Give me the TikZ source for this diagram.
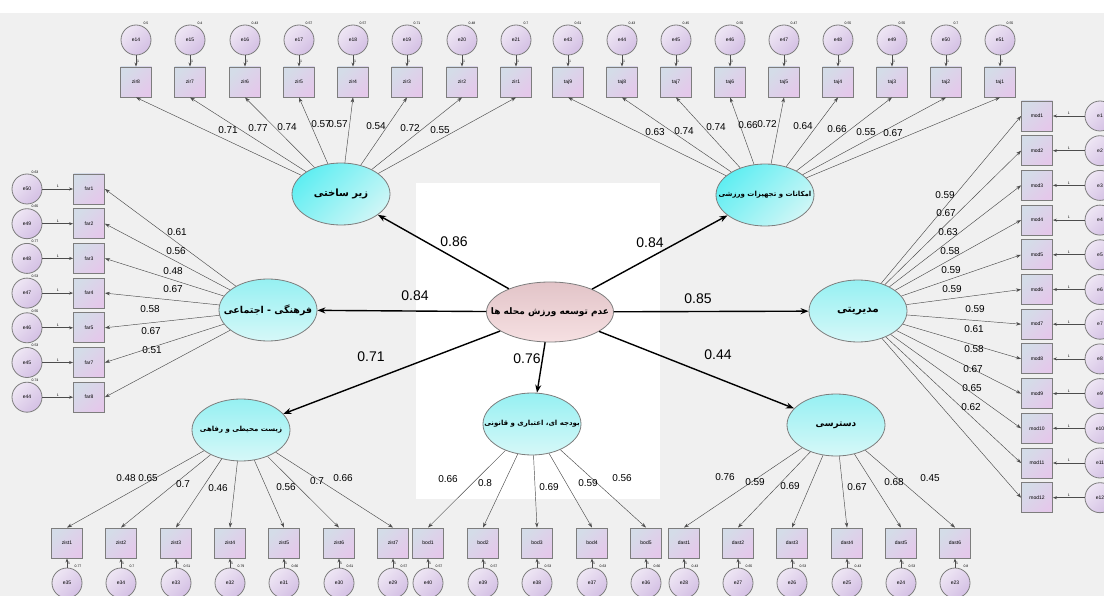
\documentclass[tikz,border=0pt]{standalone}
\usepackage{fontspec}
\setmainfont{Liberation Sans}
\newfontfamily\arabicfont[Script=Arabic]{DejaVu Sans}
\TeXXeTstate=1
\usetikzlibrary{arrows.meta,shapes.geometric}

\definecolor{bggray}{RGB}{240,240,240}
\definecolor{edgegray}{RGB}{125,125,125}
\definecolor{boxA}{RGB}{212,220,232}
\definecolor{boxB}{RGB}{228,200,234}
\definecolor{errA}{RGB}{238,230,244}
\definecolor{errB}{RGB}{212,192,228}
\definecolor{latA}{RGB}{96,238,242}
\definecolor{latB}{RGB}{206,246,246}
\definecolor{paleA}{RGB}{150,240,242}
\definecolor{paleB}{RGB}{214,248,248}
\definecolor{mainA}{RGB}{226,196,200}
\definecolor{mainB}{RGB}{246,224,226}

% fixed-size text inside the ellipses
\newcommand{\lattext}[2]{\makebox[0pt]{\fontsize{#1}{#1}\selectfont #2}}

\tikzset{
  obsbox/.style={rectangle, draw=edgegray, line width=0.9pt, minimum width=31pt, minimum height=30pt,
    inner sep=0pt, top color=boxA, bottom color=boxB, shading angle=45, font=\fontsize{5}{6}\selectfont},
  errcirc/.style={circle, draw=edgegray, line width=0.8pt, minimum size=30pt, inner sep=0pt,
    top color=errA, bottom color=errB, shading angle=45, font=\fontsize{5}{6}\selectfont},
  latent/.style={ellipse, draw=edgegray, line width=0.8pt, minimum width=98pt, minimum height=62pt,
    inner sep=0pt, top color=latA, bottom color=latB, shading angle=45, font=\arabicfont\bfseries},
  palelatent/.style={latent, top color=paleA, bottom color=paleB},
  mainlatent/.style={latent, minimum width=127pt, minimum height=60pt, top color=mainA, bottom color=mainB},
  loadarrow/.style={draw=black!70, line width=0.45pt, -{Stealth[length=5pt,width=3.5pt]}},
  fixarrow/.style={draw=black!70, line width=0.6pt, -{Stealth[length=4pt,width=3pt]}},
  structarrow/.style={draw=black, line width=1.4pt, -{Stealth[length=8pt,width=6pt]}},
  bigval/.style={font=\fontsize{14}{14}\selectfont, inner sep=0pt},
  loadval/.style={font=\fontsize{10}{10}\selectfont, inner sep=0pt},
  tinyval/.style={font=\fontsize{3.5}{4}\selectfont, inner sep=0pt},
  onelab/.style={font=\fontsize{3.5}{4}\selectfont, inner sep=0.8pt},
}

\begin{document}
\begin{tikzpicture}[x=1pt,y=-1pt]
  \useasboundingbox (0,0) rectangle (1104,596);
  % background
  \fill[bggray] (0,13) rectangle (1104,596);
  \fill[white] (416,183) rectangle (660,499);

  % latent variables
  \node[mainlatent] (main) at (550,312) {\lattext{9}{\beginR عدم توسعه ورزش محله ها\endR}};
  \node[latent] (zir) at (341,194) {\lattext{10}{\beginR زیر ساختی\endR}};
  \node[latent] (taj) at (765,195) {\lattext{7}{\beginR امکانات و تجهیزات ورزشی\endR}};
  \node[palelatent] (far) at (268,310) {\lattext{9.5}{\beginR فرهنگی - اجتماعی\endR}};
  \node[palelatent] (mod) at (858,311) {\lattext{10.5}{\beginR مدیریتی\endR}};
  \node[palelatent] (zist) at (241,430) {\lattext{7}{\beginR زیست محیطی و رفاهی\endR}};
  \node[palelatent] (bod) at (532,424) {\lattext{7}{\beginR بودجه ای، اعتباری و قانونی\endR}};
  \node[palelatent] (dast) at (836,425) {\lattext{9}{\beginR دسترسی\endR}};

  % structural paths
  \draw[structarrow] (main) -- (zir);
  \draw[structarrow] (main) -- (taj);
  \draw[structarrow] (main) -- (far);
  \draw[structarrow] (main) -- (mod);
  \draw[structarrow] (main) -- (zist);
  \draw[structarrow] (main) -- (bod);
  \draw[structarrow] (main) -- (dast);

  \node[bigval] at (454,242) {0.86};
  \node[bigval] at (650,243) {0.84};
  \node[bigval] at (415,296) {0.84};
  \node[bigval] at (698,299) {0.85};
  \node[bigval] at (371,357) {0.71};
  \node[bigval] at (527,359) {0.76};
  \node[bigval] at (718,355) {0.44};

  % zir indicators
  \foreach \n/\x/\e/\v in {8/136/14/0.5, 7/190/15/0.4, 6/245/16/0.43, 5/299/17/0.57,
                           4/353/18/0.57, 3/407/19/0.71, 2/462/20/0.48, 1/516/21/0.7} {
    \node[obsbox] (zir\n) at (\x,82) {zir\n};
    \node[errcirc] (ezir\n) at (\x,40) {e\e};
    \draw[fixarrow] (ezir\n) -- node[onelab, right] {1} (zir\n);
    \node[tinyval] at (\x+10,23) {\v};
    \draw[loadarrow] (zir) -- (zir\n.south);
  }
  \foreach \x/\y/\v in {228/130/0.71, 258/128/0.77, 287/127/0.74, 321/124/0.57,
                        338/124/0.57, 376/126/0.54, 410/128/0.72, 440/130/0.55}
    \node[loadval] at (\x,\y) {\v};

  % taj indicators
  \foreach \n/\x/\e/\v in {9/568/43/0.61, 8/622/44/0.43, 7/676/45/0.45, 6/730/46/0.55, 5/784/47/0.47,
                           4/838/48/0.55, 3/892/49/0.55, 2/946/50/0.7, 1/1000/51/0.55} {
    \node[obsbox] (taj\n) at (\x,82) {taj\n};
    \node[errcirc] (etaj\n) at (\x,40) {e\e};
    \draw[fixarrow] (etaj\n) -- node[onelab, right] {1} (taj\n);
    \node[tinyval] at (\x+10,23) {\v};
    \draw[loadarrow] (taj) -- (taj\n.south);
  }
  \foreach \x/\y/\v in {655/132/0.63, 684/131/0.74, 716/127/0.74, 748/125/0.66, 767/124/0.72,
                        803/126/0.64, 837/129/0.66, 866/132/0.55, 893/133/0.67}
    \node[loadval] at (\x,\y) {\v};

  % far indicators
  \foreach \k/\n/\e/\v in {0/1/50/0.63, 1/2/49/0.65, 2/3/48/0.77, 3/4/47/0.53,
                           4/5/46/0.55, 5/7/45/0.53, 6/8/44/0.74} {
    \pgfmathsetmacro{\y}{189+34.7*\k}
    \node[obsbox] (far\n) at (89,\y) {far\n};
    \node[errcirc] (efar\n) at (27,\y) {e\e};
    \draw[fixarrow] (efar\n) -- node[onelab, above] {1} (far\n);
    \node[tinyval] at (35,\y-17) {\v};
    \draw[loadarrow] (far) -- (far\n.east);
  }
  \foreach \x/\y/\v in {177/232/0.61, 176/251/0.56, 173/271/0.48, 173/289/0.67,
                        150/309/0.58, 151/331/0.67, 152/350/0.51}
    \node[loadval] at (\x,\y) {\v};

  % mod indicators
  \foreach \n in {1,...,12} {
    \pgfmathsetmacro{\y}{116+34.7*(\n-1)}
    \node[obsbox] (mod\n) at (1037,\y) {mod\n};
    \node[errcirc] (emod\n) at (1100,\y) {e\n};
    \draw[fixarrow] (emod\n) -- node[onelab, above] {1} (mod\n);
    \draw[loadarrow] (mod) -- (mod\n.west);
  }
  \foreach \x/\y/\v in {945/195/0.59, 946/213/0.67, 948/232/0.63, 950/251/0.58,
                        951/270/0.59, 952/289/0.59, 975/309/0.59, 974/329/0.61,
                        974/349/0.58, 973/369/0.67, 972/388/0.65, 971/407/0.62}
    \node[loadval] at (\x,\y) {\v};

  % zist indicators
  \foreach \n/\x/\e/\v in {1/67/35/0.77, 2/121/34/0.7, 3/176/33/0.51, 4/230/32/0.79,
                           5/284/31/0.66, 6/339/30/0.61, 7/393/29/0.57} {
    \node[obsbox] (zist\n) at (\x,543) {zist\n};
    \node[errcirc] (ezist\n) at (\x,583) {e\e};
    \draw[fixarrow] (ezist\n) -- node[onelab, right] {1} (zist\n);
    \node[tinyval] at (\x+11,566) {\v};
    \draw[loadarrow] (zist) -- (zist\n.north);
  }
  \foreach \x/\y/\v in {126/478/0.48, 148/478/0.65, 183/484/0.7, 218/488/0.46,
                        286/487/0.56, 317/481/0.7, 343/478/0.66}
    \node[loadval] at (\x,\y) {\v};

  % bod indicators
  \foreach \n/\x/\e/\v in {1/428/40/0.57, 2/483/39/0.57, 3/537/38/0.53, 4/592/37/0.63, 5/646/36/0.66} {
    \node[obsbox] (bod\n) at (\x,543) {bod\n};
    \node[errcirc] (ebod\n) at (\x,583) {e\e};
    \draw[fixarrow] (ebod\n) -- node[onelab, right] {1} (bod\n);
    \node[tinyval] at (\x+11,566) {\v};
    \draw[loadarrow] (bod) -- (bod\n.north);
  }
  \foreach \x/\y/\v in {448/479/0.66, 485/483/0.8, 549/487/0.69, 588/483/0.59, 622/478/0.56}
    \node[loadval] at (\x,\y) {\v};

  % dast indicators
  \foreach \n/\x/\e/\v in {1/684/28/0.43, 2/738/27/0.65, 3/792/26/0.53,
                           4/847/25/0.43, 5/901/24/0.53, 6/955/23/0.8} {
    \node[obsbox] (dast\n) at (\x,543) {dast\n};
    \node[errcirc] (edast\n) at (\x,583) {e\e};
    \draw[fixarrow] (edast\n) -- node[onelab, right] {1} (dast\n);
    \node[tinyval] at (\x+11,566) {\v};
    \draw[loadarrow] (dast) -- (dast\n.north);
  }
  \foreach \x/\y/\v in {725/477/0.76, 755/482/0.59, 790/486/0.69, 857/487/0.67, 894/482/0.68, 930/478/0.45}
    \node[loadval] at (\x,\y) {\v};
\end{tikzpicture}
\end{document}
